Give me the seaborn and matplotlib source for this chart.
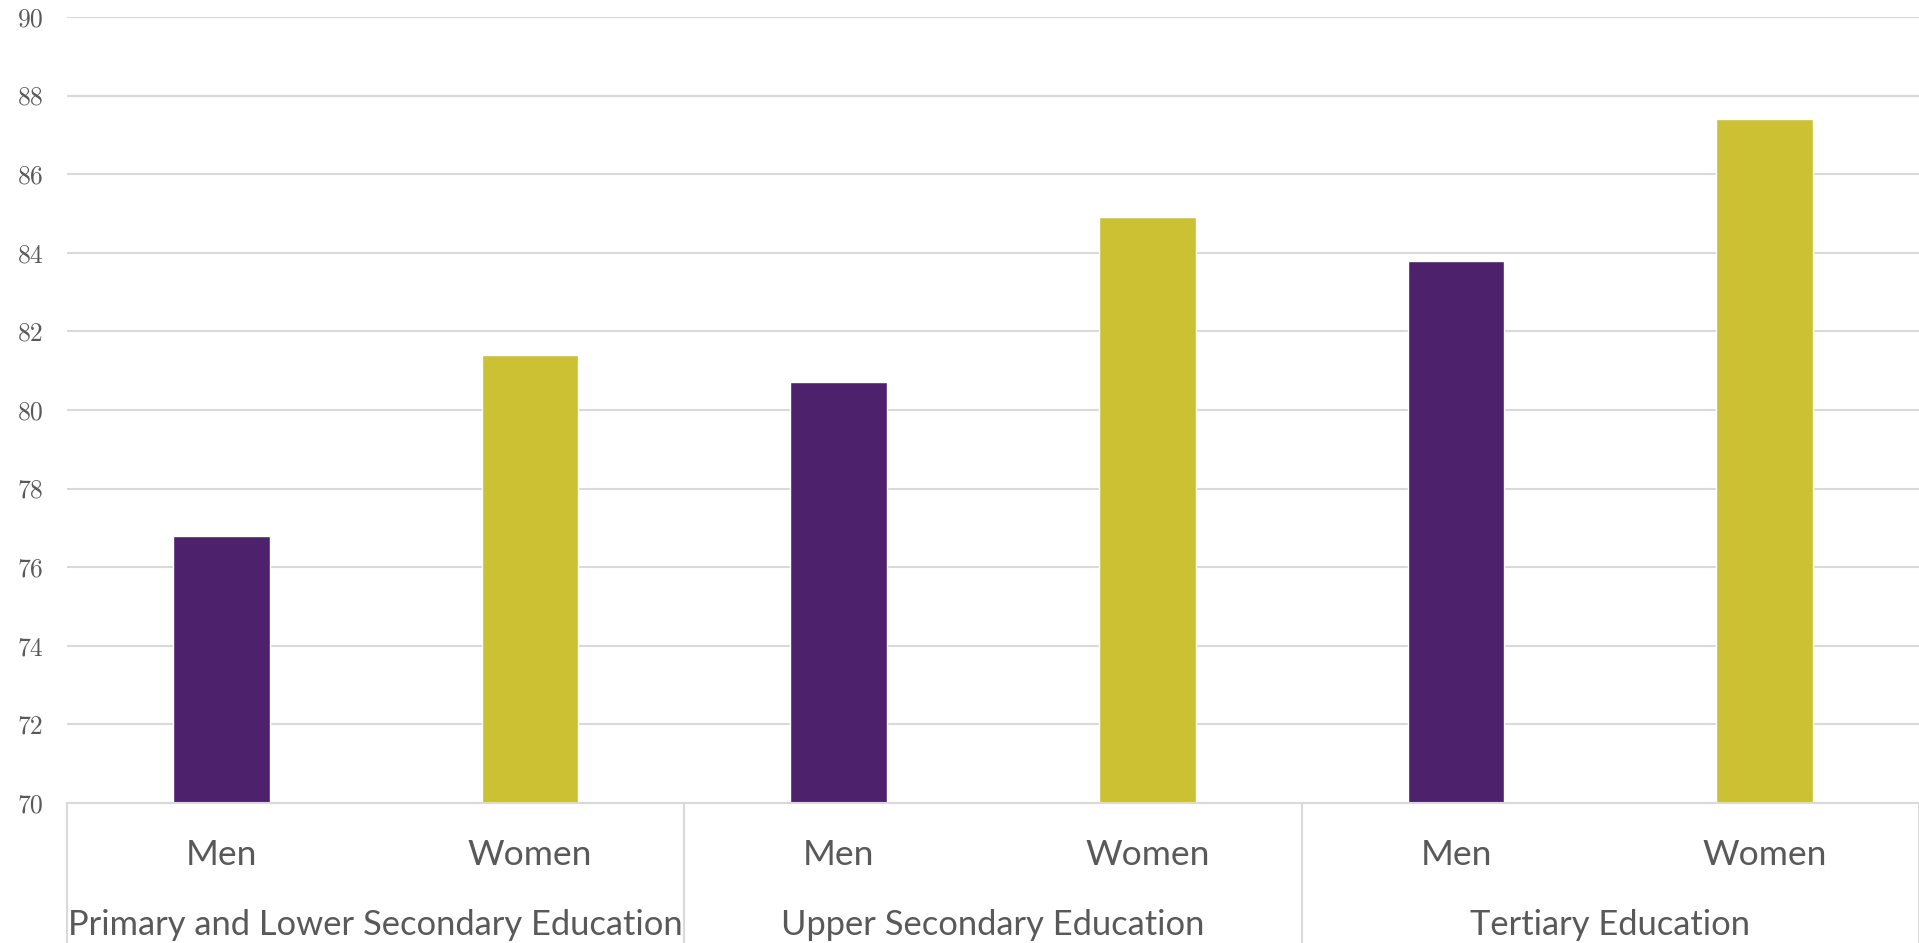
import matplotlib
matplotlib.use("Agg")
import matplotlib.pyplot as plt
import seaborn as sns
import pandas as pd

groups = ["Primary and Lower Secondary Education", "Upper Secondary Education", "Tertiary Education"]
genders = ["Men", "Women"]
men_values = [76.8, 80.7, 83.8]
women_values = [81.4, 84.9, 87.4]
y_ticks = [70, 72, 74, 76, 78, 80, 82, 84, 86, 88, 90]

rows = []
for g, m, w in zip(groups, men_values, women_values):
    rows.append({"slot": g + "|Men", "Gender": "Men", "Group": g, "value": m})
    rows.append({"slot": g + "|Women", "Gender": "Women", "Group": g, "value": w})
df = pd.DataFrame(rows)

sns.set_theme(style="white")
plt.rcParams["font.family"] = ["Lato", "DejaVu Sans"]

W, H = 1919, 943
fig = plt.figure(figsize=(W / 100, H / 100), dpi=100)
ax = fig.add_axes([67 / W, 140 / H, (W - 67) / W, (803 - 17) / H])

palette = {"Men": "#4E216C", "Women": "#CCC133"}
sns.barplot(data=df, x="slot", y="value", hue="Gender", palette=palette,
            dodge=False, width=0.314, ax=ax, legend=False, saturation=1,
            order=list(df["slot"]))

ax.set_ylim(70, 90)
ax.set_xlim(-0.5, len(df) - 0.5)
ax.set_yticks(y_ticks)
ax.set_yticklabels([str(t) for t in y_ticks], fontfamily="cmr10", fontsize=18.5, color="#595959")
ax.yaxis.grid(True, color="#d9d9d9", linewidth=1.5)
ax.set_axisbelow(True)
for s in ["top", "right", "left"]:
    ax.spines[s].set_visible(False)
ax.spines["bottom"].set_color("#d9d9d9")
ax.spines["bottom"].set_linewidth(1.5)
ax.tick_params(axis="y", length=0, pad=17)
ax.tick_params(axis="x", length=0, pad=26)
ax.set_xticks(range(len(df)))
ax.set_xticklabels(list(df["Gender"]), fontsize=25.5, color="#595959")
ax.set_xlabel("")
ax.set_ylabel("")

trans = ax.get_xaxis_transform()
axh = 803 - 17
for i, g in enumerate(groups):
    ax.text(2 * i + 0.5, -(925 - 803) / axh, g, transform=trans, ha="center", va="center",
            fontsize=24.8, color="#595959", clip_on=False)
for xsep in [-0.5, 1.5, 3.5, 5.5]:
    ax.plot([xsep, xsep], [0, -(H - 803) / axh], transform=trans, color="#d9d9d9",
            linewidth=1.5, clip_on=False)

fig.savefig("out.png", dpi=100)
